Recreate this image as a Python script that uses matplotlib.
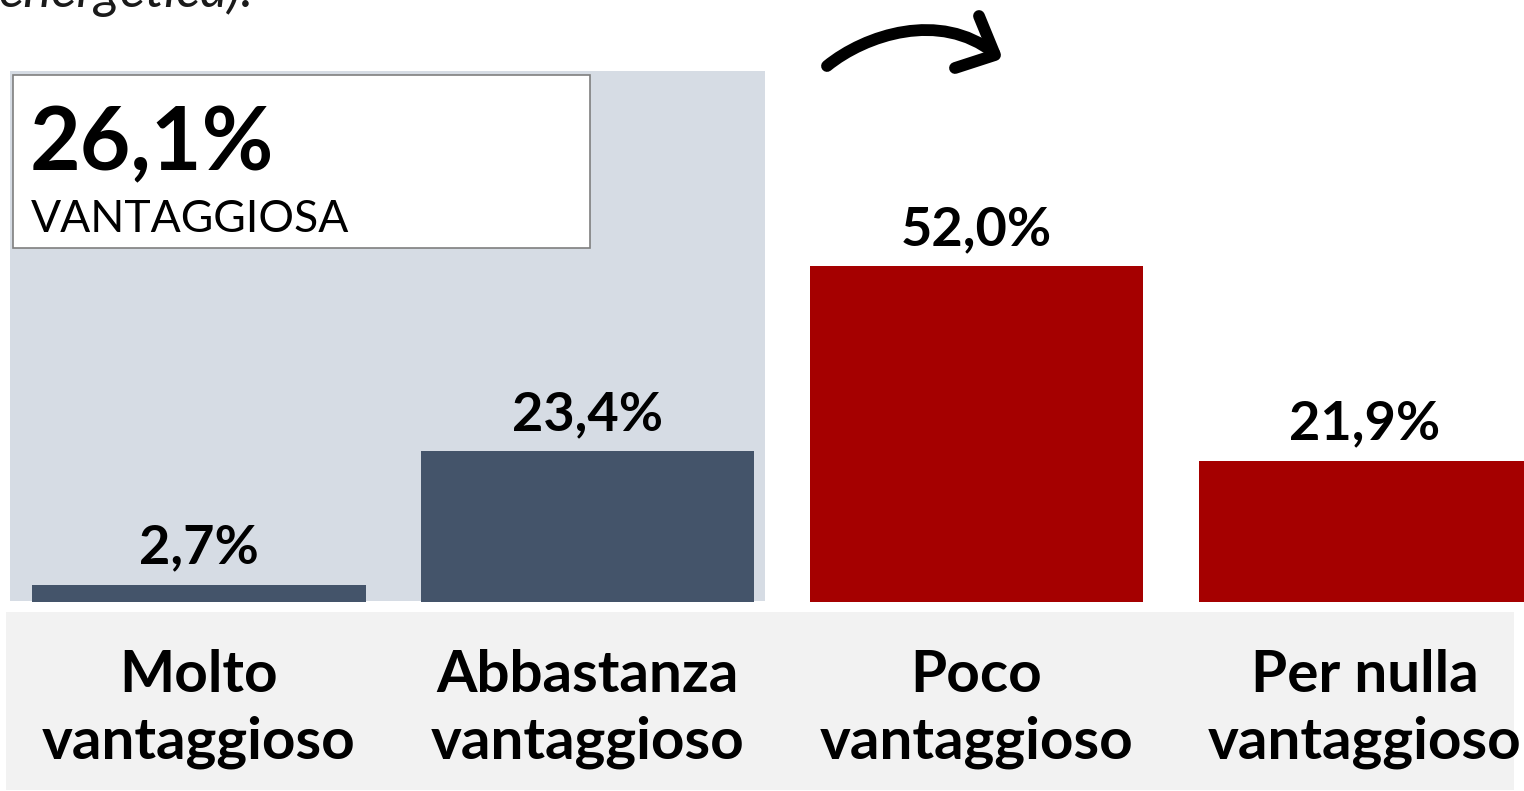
import matplotlib
matplotlib.use("Agg")
import matplotlib.pyplot as plt
from matplotlib.patches import Rectangle, PathPatch
from matplotlib.path import Path
import numpy as np

# chart data
categories = ["Molto\nvantaggioso", "Abbastanza\nvantaggioso",
              "Poco\nvantaggioso", "Per nulla\nvantaggioso"]
values = [2.7, 23.4, 52.0, 21.9]
value_labels = ["2,7%", "23,4%", "52,0%", "21,9%"]
total_label = "26,1%"
total_caption = "VANTAGGIOSA"
title_tail = "energetica)."

BLUE = "#44546A"
RED = "#A50000"
colors = [BLUE, BLUE, RED, RED]

W, H = 1524, 791
plt.rcParams['font.family'] = ['Lato', 'DejaVu Sans']

fig = plt.figure(figsize=(W / 100, H / 100), dpi=100)
ax = fig.add_axes([0, 0, 1, 1])

# axis limits so bars sit where the reference has them
step = 388.7
ppu = 6.46
ax.set_xlim(-199 / step, (W - 199) / step)
ax.set_ylim(-(H - 602) / ppu, 602 / ppu)
ax.axis("off")


def ff(x, y):
    # pixel (top-left origin) -> axes fraction (axes fills the figure)
    return x / W, 1 - y / H


def box(xa, ya, xb, yb, **kw):
    (x0, y0), (x1, y1) = ff(xa, yb), ff(xb, ya)
    ax.add_patch(Rectangle((x0, y0), x1 - x0, y1 - y0, transform=ax.transAxes,
                           clip_on=False, **kw))


# grey panel behind the "vantaggioso" bars and the label band
box(10, 71, 765, 601, facecolor="#D6DCE4", edgecolor="none", zorder=0)
box(6, 612, 1514, 790, facecolor="#F2F2F2", edgecolor="none", zorder=0)

xs = np.arange(len(values))
ax.bar(xs, values, width=0.857, color=colors, zorder=3)

for x, v, lab in zip(xs, values, value_labels):
    ax.annotate(lab, (x, v), xytext=(0, 15), textcoords="offset points",
                ha="center", va="baseline", fontsize=39, fontweight="bold",
                color="black", zorder=4)

for x, lab in zip(xs, categories):
    ax.text(x, -(709 - 602) / ppu, lab, ha="center", va="center", fontsize=42,
            fontweight="bold", color="black", linespacing=1.3, zorder=4)

# summary box
box(13, 75, 590, 248, facecolor="white", edgecolor="#7F7F7F", linewidth=1.2,
    zorder=5)
ax.text(*ff(30, 170), total_label, transform=ax.transAxes, ha="left",
        va="baseline", fontsize=63, fontweight="bold", color="black", zorder=6)
ax.text(*ff(31, 232), total_caption, transform=ax.transAxes, ha="left",
        va="baseline", fontsize=32, color="black", zorder=6)

# cut-off title line at the top
ax.text(*ff(-2, 7), title_tail, transform=ax.transAxes, ha="left",
        va="baseline", fontsize=38, style="italic", color="#1A1A1A")

# hand-drawn style curved arrow
shaft = Path([ff(827, 66), ff(865, 35), ff(940, 10), ff(994, 53)],
             [Path.MOVETO, Path.CURVE4, Path.CURVE4, Path.CURVE4])
head = Path([ff(979, 16), ff(995, 55), ff(955, 68)],
            [Path.MOVETO, Path.LINETO, Path.LINETO])
for p in (shaft, head):
    ax.add_patch(PathPatch(p, transform=ax.transAxes, fill=False,
                           edgecolor="black", linewidth=8.5, capstyle="round",
                           joinstyle="round", clip_on=False, zorder=6))

fig.savefig("out.png", dpi=100)
